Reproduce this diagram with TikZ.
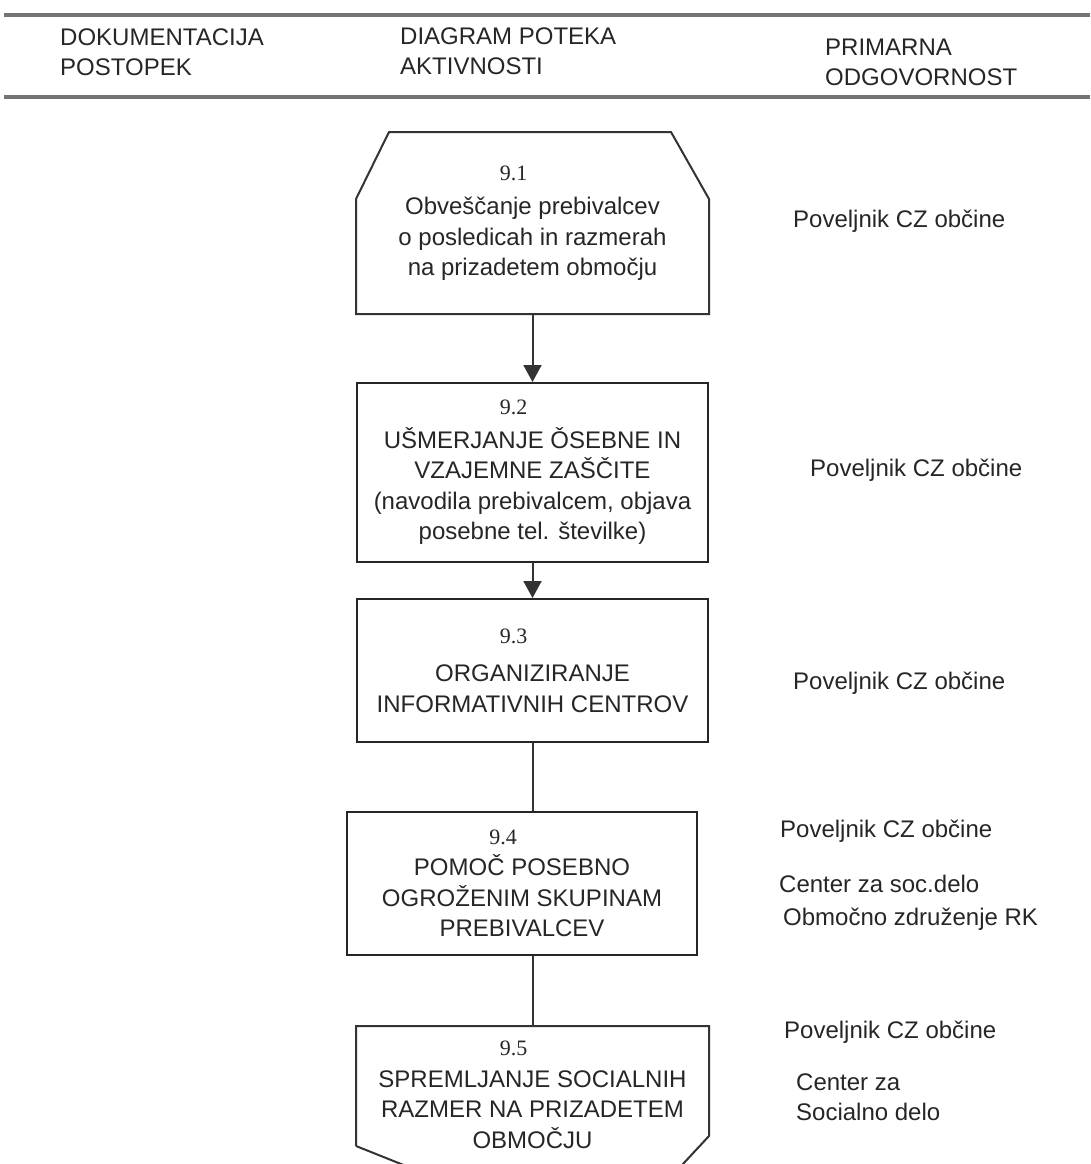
\documentclass[tikz,border=0pt]{standalone}
\usepackage{fontspec}
\setmainfont{Liberation Sans}
\newfontfamily\numfont{Liberation Serif}
\usetikzlibrary{arrows.meta,calc}
\newcommand{\stepno}[1]{{\numfont\fontsize{22}{26}\selectfont #1\hspace*{38pt}}}
\tikzset{
  stepbox/.style={draw=black!85, line width=2pt, minimum width=351pt, align=center, inner sep=0pt, text=black!85, font=\fontsize{24}{30.5}\selectfont},
  resp/.style={anchor=west, inner sep=0pt, align=left, text=black!85, font=\fontsize{24}{30}\selectfont},
  flow/.style={line width=2pt, draw=black!80},
  rule/.style={line width=3.5pt, draw=black!55},
}
\begin{document}
\begin{tikzpicture}[x=1pt, y=-1pt]
\path[use as bounding box, clip] (0,0) rectangle (1090,1164);
\draw[rule] (4,15) -- (1090,15);
\draw[rule] (4,97) -- (1090,97);
\node[resp] (hdoc) at (60,52) {DOKUMENTACIJA\\POSTOPEK};
\node[resp] (hdiag) at (400,51) {DIAGRAM POTEKA\\AKTIVNOSTI};
\node[resp] (hresp) at (825,62) {PRIMARNA\\ODGOVORNOST};
\node[stepbox, draw=none, minimum height=180pt] (b1) at (532.5,223) {\stepno{9.1}\\[4pt]Obveščanje prebivalcev\\o posledicah in razmerah\\na prizadetem območju};
\draw[flow] (b1.south west) -- ($(b1.north west)+(0,67)$) -- ($(b1.north west)+(33,0)$) -- ($(b1.north east)+(-38,0)$) -- ($(b1.north east)+(0,67)$) -- (b1.south east) -- cycle;
\node[stepbox, minimum height=179pt] (b2) at (532.5,472.5) {\stepno{9.2}\\[3pt]UŠMERJANJE ǑSEBNE IN\\VZAJEMNE ZAŠČITE\\(navodila prebivalcem, objava\\posebne tel. številke)};
\node[stepbox, minimum height=143pt] (b3) at (532.5,670.5) {\stepno{9.3}\\[8pt]ORGANIZIRANJE\\INFORMATIVNIH CENTROV};
\node[stepbox, minimum width=350pt, minimum height=143pt] (b4) at (522,883.5) {\stepno{9.4}\\[1pt]POMOČ POSEBNO\\OGROŽENIM SKUPINAM\\PREBIVALCEV};
\node[stepbox, draw=none, minimum height=136pt] (b5) at (532.5,1095) {\stepno{9.5}\\[1pt]SPREMLJANJE SOCIALNIH\\RAZMER NA PRIZADETEM\\OBMOČJU};
\draw[flow] ($(b5.north west)+(0,120)$) -- (b5.north west) -- (b5.north east) -- ($(b5.north east)+(0,110)$) -- ++(-40,43);
\draw[flow] ($(b5.north west)+(0,120)$) -- ++(100,40);
\draw[flow, -{Triangle[width=18pt,length=17pt]}] (b1.south) -- (b2.north);
\draw[flow, -{Triangle[width=18pt,length=17pt]}] (b2.south) -- (b3.north);
\draw[flow] (b3.south) -- (b3.south |- b4.north);
\draw[flow] (b5.north |- b4.south) -- (b5.north);
\node[resp] (r1) at (793,221) {Poveljnik CZ občine};
\node[resp] (r2) at (810,470) {Poveljnik CZ občine};
\node[resp] (r3) at (793,683) {Poveljnik CZ občine};
\node[resp] (r4a) at (780,831) {Poveljnik CZ občine};
\node[resp] (r4b) at (779,884) {Center za soc.delo};
\node[resp] (r4c) at (783,919) {Območno združenje RK};
\node[resp] (r5a) at (784,1032) {Poveljnik CZ občine};
\node[resp] (r5b) at (796,1097) {Center za\\Socialno delo};
\end{tikzpicture}
\end{document}
